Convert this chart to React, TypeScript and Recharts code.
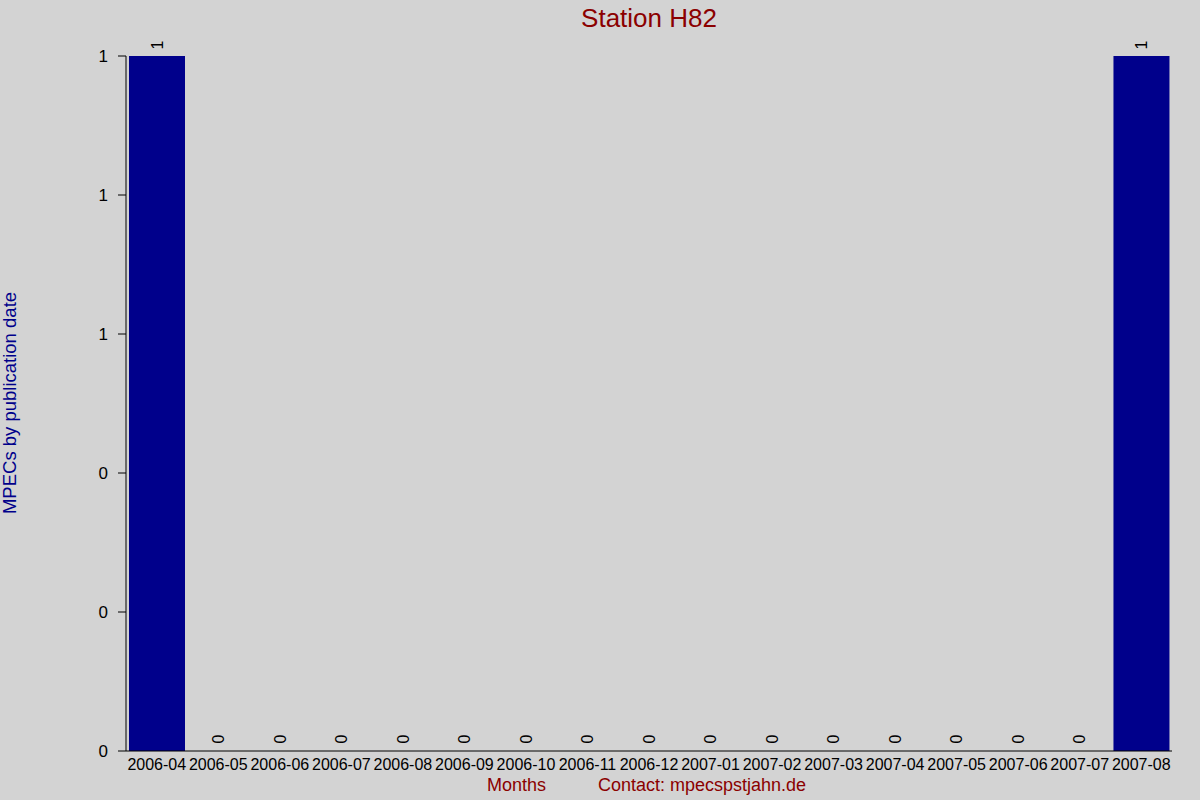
import { BarChart, Bar, XAxis, YAxis, LabelList } from "recharts";

const months = [
  "2006-04", "2006-05", "2006-06", "2006-07", "2006-08", "2006-09",
  "2006-10", "2006-11", "2006-12", "2007-01", "2007-02", "2007-03",
  "2007-04", "2007-05", "2007-06", "2007-07", "2007-08",
];

const mpecs = [1, 0, 0, 0, 0, 0, 0, 0, 0, 0, 0, 0, 0, 0, 0, 0, 1];

const yTicks = [0, 0.2, 0.4, 0.6, 0.8, 1];

const FONT = "'Liberation Sans', Arial, sans-serif";

const data = months.map((m, i) => ({ month: m, value: mpecs[i] }));

// zero months get a 1px stub (minPointSize) so their label is kept, but draw nothing
const BarShape = (props: any) => {
  const { x, y, width, height, payload } = props;
  if (!payload || !(payload.value > 0)) return <g />;
  return <rect x={x} y={y} width={width} height={height} fill="#00008b" />;
};

// rotated value label sitting just above each bar
const BarValue = (props: any) => {
  const { x, y, width, height, value } = props;
  const cx = x + width / 2;
  const top = height < 0 ? y + height : y;
  const ty = top - 6.5;
  return (
    <text
      x={cx}
      y={ty}
      transform={`rotate(-90 ${cx} ${ty})`}
      textAnchor="start"
      dominantBaseline="central"
      fontSize={16}
      fontFamily={FONT}
      fill="#000"
    >
      {String(value)}
    </text>
  );
};

export default function App() {
  return (
    <div
      style={{
        position: "relative",
        width: 1200,
        height: 800,
        background: "#d3d3d3",
        fontFamily: FONT,
      }}
    >
      <style>{"body{margin:0}"}</style>

      <div
        style={{
          position: "absolute",
          left: 126,
          width: 1046,
          top: 3,
          textAlign: "center",
          fontSize: 26,
          color: "#8b0000",
        }}
      >
        Station H82
      </div>

      <div
        style={{
          position: "absolute",
          left: 10,
          top: 403,
          transform: "translate(-50%, -50%) rotate(-90deg)",
          whiteSpace: "nowrap",
          fontSize: 18.5,
          color: "#00008b",
        }}
      >
        MPECs by publication date
      </div>

      <div
        style={{
          position: "absolute",
          left: 487,
          top: 775,
          fontSize: 18,
          color: "#8b0000",
          whiteSpace: "nowrap",
        }}
      >
        Months
      </div>
      <div
        style={{
          position: "absolute",
          left: 598,
          top: 775,
          fontSize: 18,
          color: "#8b0000",
          whiteSpace: "nowrap",
        }}
      >
        Contact: mpecspstjahn.de
      </div>

      <BarChart
        width={1200}
        height={800}
        data={data}
        margin={{ top: 56, right: 28, bottom: 0, left: 0 }}
        barCategoryGap={3}
      >
        <XAxis
          dataKey="month"
          height={49}
          interval={0}
          tickLine={false}
          axisLine={{ stroke: "#000" }}
          tick={{ fill: "#000", fontSize: 16, fontFamily: FONT }}
        />
        <YAxis
          width={126}
          domain={[0, 1]}
          ticks={yTicks}
          tickFormatter={(v: number) => String(Math.round(v))}
          tickSize={8}
          tickMargin={10}
          axisLine={{ stroke: "#000" }}
          tickLine={{ stroke: "#000" }}
          tick={{ fill: "#000", fontSize: 17, fontFamily: FONT }}
        />
        <Bar
          dataKey="value"
          fill="#00008b"
          minPointSize={1}
          shape={BarShape}
          isAnimationActive={false}
        >
          <LabelList dataKey="value" content={BarValue} />
        </Bar>
      </BarChart>
    </div>
  );
}
